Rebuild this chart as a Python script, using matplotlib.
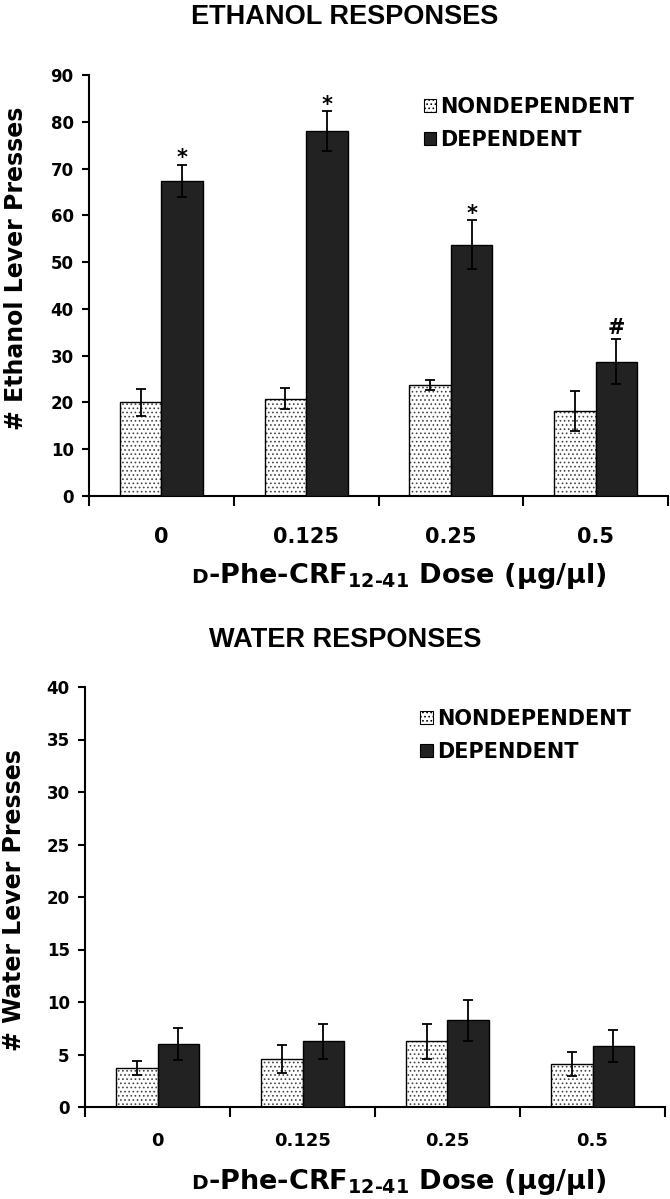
import matplotlib
matplotlib.use('Agg')
import matplotlib.pyplot as plt
import numpy as np
from matplotlib.patches import Patch
from matplotlib.offsetbox import TextArea, HPacker, AnchoredOffsetbox

# data
doses = ['0', '0.125', '0.25', '0.5']
groups = ['NONDEPENDENT', 'DEPENDENT']

eth_nondep = [20.0, 20.8, 23.7, 18.2]
eth_nondep_err = [2.9, 2.2, 1.0, 4.2]
eth_dep = [67.4, 78.0, 53.7, 28.7]
eth_dep_err = [3.4, 4.2, 5.2, 4.8]
eth_marks = ['*', '*', '*', '#']

wat_nondep = [3.7, 4.6, 6.25, 4.1]
wat_nondep_err = [0.65, 1.35, 1.7, 1.15]
wat_dep = [6.0, 6.25, 8.27, 5.8]
wat_dep_err = [1.5, 1.65, 1.95, 1.5]

plt.rcParams['font.family'] = ['DejaVu Sans']
plt.rcParams['font.weight'] = 'bold'
plt.rcParams['mathtext.fontset'] = 'dejavusans'
plt.rcParams['mathtext.default'] = 'bf'
plt.rcParams['hatch.linewidth'] = 0.7

W, H = 670, 1199
fig = plt.figure(figsize=(W / 100, H / 100), dpi=100)


def px_axes(left, top, right, bottom):
    return fig.add_axes([left / W, 1 - bottom / H, (right - left) / W, (bottom - top) / H])


def panel(ax, nondep, nondep_err, dep, dep_err, ymax, ystep, xtick_size, xpad):
    x = np.arange(len(doses))
    bw = 0.286
    # dotted fill, then black outline on top
    ax.bar(x - bw / 2, nondep, bw, color='white', edgecolor='#444444', hatch='....', lw=0, zorder=2)
    ax.bar(x - bw / 2, nondep, bw, fill=False, edgecolor='black', lw=1.0, zorder=3)
    ax.bar(x + bw / 2, dep, bw, color='#222222', edgecolor='black', lw=1.0, zorder=3)
    ekw = dict(fmt='none', ecolor='black', elinewidth=1.3, capsize=3.3, capthick=1.3, zorder=4)
    ax.errorbar(x - bw / 2, nondep, yerr=nondep_err, **ekw)
    ax.errorbar(x + bw / 2, dep, yerr=dep_err, **ekw)

    ax.set_xlim(-0.5, len(doses) - 0.5)
    ax.set_ylim(0, ymax)
    ax.set_yticks(np.arange(0, ymax + 0.1, ystep))
    ax.set_xticks(x)
    ax.set_xticklabels(doses)
    ax.set_xticks(np.arange(-0.5, len(doses)), minor=True)
    ax.tick_params(axis='x', which='major', length=0, pad=xpad, labelsize=xtick_size)
    ax.tick_params(axis='x', which='minor', length=7, width=1.5, direction='out')
    ax.tick_params(axis='y', length=5, width=1.5, pad=6, labelsize=12)
    for lab in ax.get_xticklabels() + ax.get_yticklabels():
        lab.set_fontweight('bold')
    for s in ['top', 'right']:
        ax.spines[s].set_visible(False)
    for s in ['left', 'bottom']:
        ax.spines[s].set_linewidth(1.5)

    handles = [Patch(facecolor='white', edgecolor='black', hatch='....', lw=0.8),
               Patch(facecolor='#222222', edgecolor='black', lw=0.8)]
    ax.legend(handles, groups, loc='upper left', bbox_to_anchor=(0.578, 0.948),
              frameon=False, prop=dict(size=15, weight='bold'), handlelength=0.6,
              handleheight=0.6, handletextpad=0.2, labelspacing=0.62, borderpad=0,
              borderaxespad=0)
    return x, bw


def dose_label(ax, cx, cy):
    d = TextArea('D', textprops=dict(size=14.5, weight='bold'))
    rest = TextArea('-Phe-CRF$_{12\u201041}$ Dose (\u00b5g/\u00b5l)',
                    textprops=dict(size=19.5, weight='bold'))
    box = HPacker(children=[d, rest], align='baseline', pad=0, sep=0)
    anchored = AnchoredOffsetbox(loc='center', child=box, frameon=False, pad=0, borderpad=0,
                                 bbox_to_anchor=(cx / W, 1 - cy / H),
                                 bbox_transform=fig.transFigure)
    ax.add_artist(anchored)


# ethanol panel
ax1 = px_axes(89, 75, 668, 496)
x, bw = panel(ax1, eth_nondep, eth_nondep_err, eth_dep, eth_dep_err, 90, 10, 15, 22)
for xi, v, e, m in zip(x, eth_dep, eth_dep_err, eth_marks):
    dy = 0.5 if m == '*' else 4
    ax1.annotate(m, (xi + bw / 2, v + e), xytext=(0, dy), textcoords='offset points',
                 ha='center', va='baseline', fontsize=15, fontweight='bold')
fig.text(345 / W, 1 - 17 / H, 'ETHANOL RESPONSES', ha='center', va='center',
         family='Liberation Sans', fontsize=19.5, fontweight='bold')
fig.text(16 / W, 1 - 268 / H, '# Ethanol Lever Presses', rotation=90, ha='center',
         va='center', fontsize=17, fontweight='bold')
dose_label(ax1, 399, 576)

# water panel
ax2 = px_axes(85, 687, 665, 1107)
panel(ax2, wat_nondep, wat_nondep_err, wat_dep, wat_dep_err, 40, 5, 13, 18)
fig.text(345 / W, 1 - 640 / H, 'WATER RESPONSES', ha='center', va='center',
         family='Liberation Sans', fontsize=19.5, fontweight='bold')
fig.text(14 / W, 1 - 900 / H, '# Water Lever Presses', rotation=90, ha='center',
         va='center', fontsize=17, fontweight='bold')
dose_label(ax2, 399, 1182)

fig.savefig('out.png', dpi=100)
